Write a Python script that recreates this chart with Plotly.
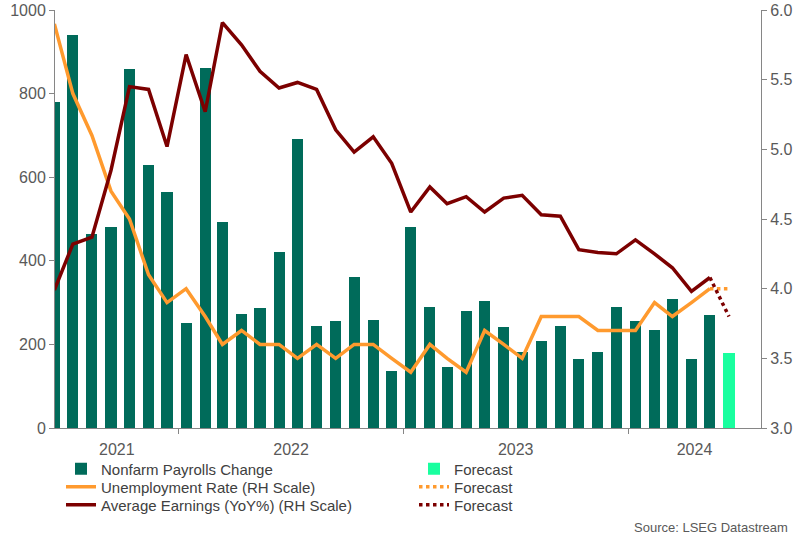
import plotly.graph_objects as go
import pandas as pd

# ---------------- data ----------------
months = [
    "2021-06", "2021-07", "2021-08", "2021-09", "2021-10", "2021-11", "2021-12",
    "2022-01", "2022-02", "2022-03", "2022-04", "2022-05", "2022-06",
    "2022-07", "2022-08", "2022-09", "2022-10", "2022-11", "2022-12",
    "2023-01", "2023-02", "2023-03", "2023-04", "2023-05", "2023-06",
    "2023-07", "2023-08", "2023-09", "2023-10", "2023-11", "2023-12",
    "2024-01", "2024-02", "2024-03", "2024-04", "2024-05",
]
forecast_month = "2024-06"

nfp = [780, 940, 465, 480, 860, 630, 565,
       252, 862, 494, 272, 287, 420,
       692, 245, 257, 362, 258, 137,
       482, 289, 147, 279, 305, 241,
       182, 208, 245, 165, 182, 290,
       255, 234, 308, 165, 271]
nfp_forecast = 180

unemp = [5.9, 5.4, 5.1, 4.7, 4.5, 4.1, 3.9,
         4.0, 3.8, 3.6, 3.7, 3.6, 3.6,
         3.5, 3.6, 3.5, 3.6, 3.6, 3.5,
         3.4, 3.6, 3.5, 3.4, 3.7, 3.6,
         3.5, 3.8, 3.8, 3.8, 3.7, 3.7,
         3.7, 3.9, 3.8, 3.9, 4.0]
unemp_forecast = 4.0

earnings = [3.99, 4.32, 4.37, 4.85, 5.45, 5.43, 5.02,
            5.68, 5.27, 5.91, 5.75, 5.56, 5.44,
            5.48, 5.43, 5.14, 4.98, 5.09, 4.90,
            4.55, 4.73, 4.61, 4.66, 4.55, 4.65,
            4.67, 4.53, 4.52, 4.28, 4.26, 4.25,
            4.35, 4.25, 4.15, 3.98, 4.08]
earnings_forecast = 3.8

year_labels = ["2021", "2022", "2023", "2024"]
source_text = "Source: LSEG Datastream"

# ---------------- styling ----------------
C_BAR = "#006b5a"
C_BAR_FC = "#19ff9f"
C_ORANGE = "#ff9a2e"
C_RED = "#7c0000"
C_AXIS = "#868686"
C_TEXT = "#595959"
C_LEG = "#404040"
FONT = "Liberation Sans, Arial, sans-serif"

W, H = 801, 537
ML, MR, MT, MB = 55, 40, 10, 109
PW, PH = W - ML - MR, H - MT - MB

offset = pd.Timedelta(days=12)
x = pd.to_datetime(months) + offset
x_fc = pd.to_datetime([forecast_month])[0] + offset
x_range = [pd.Timestamp("2021-06-14"), pd.Timestamp("2024-08-04")]

# year boundary ticks and label positions centred in the visible part of each year
year_starts = [pd.Timestamp(f"{y}-01-01") for y in year_labels]
bounds = [x_range[0]] + year_starts[1:] + [x_range[1]]
label_pos = [bounds[i] + (bounds[i + 1] - bounds[i]) / 2 for i in range(len(year_labels))]

fig = go.Figure()

fig.add_trace(go.Bar(
    x=x, y=nfp, name="Nonfarm Payrolls Change", marker_color=C_BAR,
    width=18 * 86400000, legend="legend"))
fig.add_trace(go.Bar(
    x=[x_fc], y=[nfp_forecast], name="Forecast", marker_color=C_BAR_FC,
    width=18 * 86400000, legend="legend2"))

fig.add_trace(go.Scatter(
    x=x, y=unemp, name="Unemployment Rate (RH Scale)", mode="lines",
    line=dict(color=C_ORANGE, width=3.5), yaxis="y2", legend="legend3"))
fig.add_trace(go.Scatter(
    x=[x[-1], x_fc], y=[unemp[-1], unemp_forecast], name="Forecast", mode="lines",
    line=dict(color=C_ORANGE, width=3.5, dash="dot"), yaxis="y2", legend="legend4"))

fig.add_trace(go.Scatter(
    x=x, y=earnings, name="Average Earnings (YoY%) (RH Scale)", mode="lines",
    line=dict(color=C_RED, width=3.5), yaxis="y2", legend="legend5"))
fig.add_trace(go.Scatter(
    x=[x[-1], x_fc], y=[earnings[-1], earnings_forecast], name="Forecast", mode="lines",
    line=dict(color=C_RED, width=3.5, dash="dot"), yaxis="y2", legend="legend6"))


def leg(px, py):
    return dict(
        x=(px - ML) / PW, y=(MT + PH - py) / PH, xanchor="left", yanchor="middle",
        orientation="v", bgcolor="rgba(0,0,0,0)", borderwidth=0,
        font=dict(family=FONT, size=15, color=C_LEG), itemclick=False,
        itemdoubleclick=False)


col1, col2 = 61, 414
rows = [469, 487, 505]

fig.update_layout(
    template="none",
    width=W, height=H,
    margin=dict(l=ML, r=MR, t=MT, b=MB, pad=0, autoexpand=False),
    paper_bgcolor="white", plot_bgcolor="white",
    font=dict(family=FONT, size=16, color=C_TEXT),
    bargap=0,
    showlegend=True,
    hovermode=False,
    legend=leg(col1, rows[0]),
    legend2=leg(col2, rows[0]),
    legend3=leg(col1, rows[1]),
    legend4=leg(col2, rows[1]),
    legend5=leg(col1, rows[2]),
    legend6=leg(col2, rows[2]),
    xaxis=dict(
        type="date", range=x_range, automargin=False,
        tickmode="array", tickvals=label_pos, ticktext=year_labels,
        ticks="outside", ticklen=7, tickcolor="rgba(0,0,0,0)",
        showgrid=False, zeroline=False,
        showline=True, linecolor=C_AXIS, linewidth=1,
        tickfont=dict(family=FONT, size=16, color=C_TEXT),
        minor=dict(tickmode="array", tickvals=year_starts[1:], ticks="outside",
                   ticklen=5, tickcolor=C_AXIS, tickwidth=1, showgrid=False),
    ),
    yaxis=dict(
        range=[0, 1000], tickmode="linear", tick0=0, dtick=200, automargin=False,
        ticks="outside", ticklen=5, tickcolor=C_AXIS, tickwidth=1,
        showline=True, linecolor=C_AXIS, linewidth=1,
        showgrid=False, zeroline=False,
        tickfont=dict(family=FONT, size=16, color=C_TEXT),
    ),
    yaxis2=dict(
        range=[3, 6], tickmode="linear", tick0=3, dtick=0.5, tickformat=".1f",
        overlaying="y", side="right", automargin=False,
        ticks="outside", ticklen=5, tickcolor=C_AXIS, tickwidth=1,
        showline=True, linecolor=C_AXIS, linewidth=1,
        showgrid=False, zeroline=False,
        tickfont=dict(family=FONT, size=16, color=C_TEXT),
    ),
    annotations=[dict(
        text=source_text, xref="paper", yref="paper",
        x=(790 - ML) / PW, y=(MT + PH - 527) / PH, xanchor="right", yanchor="middle",
        showarrow=False, font=dict(family=FONT, size=13, color=C_TEXT))],
)

fig.write_html(
    "out.html",
    config={"displayModeBar": False, "staticPlot": False},
    post_script="document.body.style.margin='0px';document.body.style.overflow='hidden';",
)
